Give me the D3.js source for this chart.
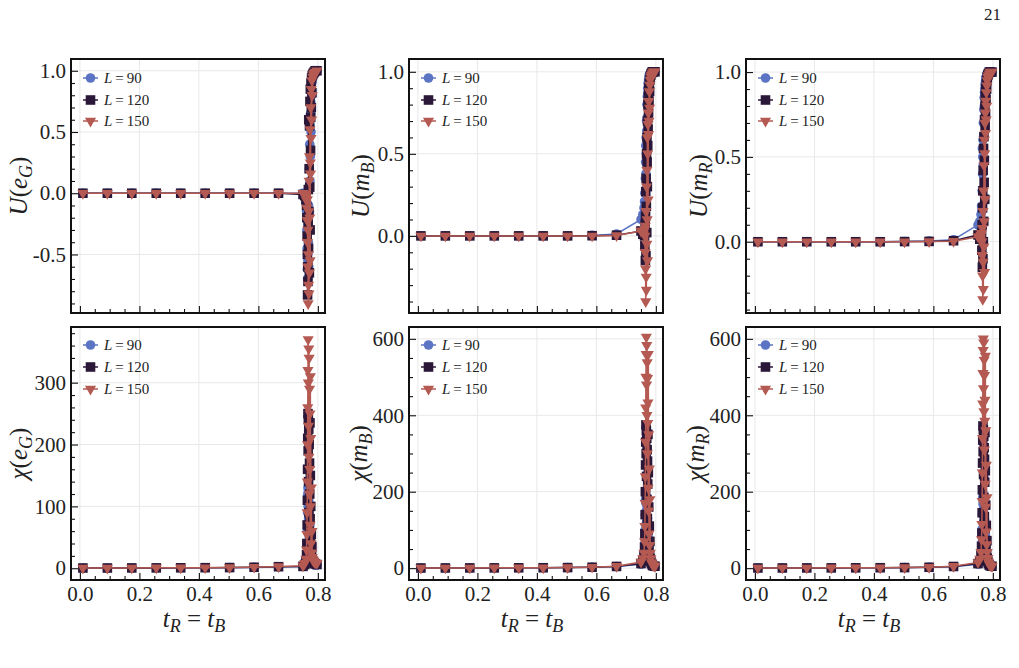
<!DOCTYPE html>
<html>
<head>
<meta charset="utf-8">
<script src="https://cdn.jsdelivr.net/npm/d3@7"></script>
<style>
    body { margin: 0; background: #fff; }
    svg text { font-family: "Liberation Serif", "DejaVu Serif", serif; fill: #222; }
</style>
</head>
<body>
<div id="chart"></div>
<script>
// coarse scan in t_R = t_B, then a fine scan across the transition
const tCoarse = [0.01, 0.0922, 0.1744, 0.2567, 0.3389, 0.4211, 0.5033, 0.5856, 0.6678];
const tFine = [0.750, 0.756, 0.760, 0.762, 0.763, 0.764, 0.7647, 0.7654, 0.766, 0.7667, 0.7674, 0.768,
    0.7687, 0.7694, 0.770, 0.7707, 0.7714, 0.772, 0.7727, 0.7734, 0.774, 0.7747, 0.7754, 0.776,
    0.777, 0.778, 0.779, 0.780, 0.781, 0.783, 0.785, 0.788, 0.791, 0.797];
const sizes = [90, 120, 150];

// U(e_G)
const uEG90 = [0, 0, 0, 0, 0, 0, 0, 0, 0,
    0.00, -0.02, -0.08, -0.15, -0.3, -0.45, -0.62, -0.7, -0.5, -0.55, -0.25, -0.4, -0.1, -0.6, 0.05, -0.3, 0.2,
    -0.15, 0.4, 0.1, 0.55, 0.3, 0.65, 0.75, 0.5, 0.85, 0.8, 0.9, 0.93, 0.96, 0.98, 0.99, 1.0, 1.0];
const uEG120 = [0, 0, 0, 0, 0, 0, 0, 0, 0,
    -0.01, -0.02, -0.05, -0.1, -0.2, -0.35, -0.5, -0.83, -0.6, -0.72, -0.25, 0.03, -0.45, 0.6, -0.15, 0.2,
    -0.65, 0.55, 0.05, 0.75, -0.3, 0.85, 0.35, 0.62, 0.9, 0.7, 0.94, 0.82, 0.96, 0.97, 0.98, 0.99, 1.0, 1.0];
const uEG150 = [0, 0, 0, 0, 0, 0, 0, 0, 0,
    0.0, -0.01, -0.03, -0.06, -0.12, -0.22, -0.05, -0.4, -0.6, -0.3, -0.9, -0.5, -0.75, -0.15, -0.82, 0.1,
    -0.65, 0.3, -0.2, 0.52, -0.55, 0.25, 0.16, 0.7, 0.45, 0.85, 0.6, 0.92, 0.8, 0.95, 0.97, 0.98, 0.99, 1.0];

// U(m_B)
const uMB90 = [0, 0, 0, 0, 0, 0, 0.001, 0.003, 0.012,
    0.1, 0.13, 0.17, 0.21, 0.26, 0.2, 0.35, 0.45, 0.55, 0.38, 0.6, 0.5, 0.7, 0.64, 0.8, 0.72, 0.85,
    0.8, 0.9, 0.87, 0.93, 0.9, 0.95, 0.96, 0.97, 0.98, 0.98, 0.99, 0.99, 1.0, 1.0, 1.0, 1.0, 1.0];
const uMB120 = [0, 0, 0, 0, 0, 0, 0, 0.001, 0.004,
    0.03, 0.01, 0.02, 0.0, -0.06, 0.07, -0.15, 0.12, 0.27, -0.12, 0.35, 0.18, 0.5, 0.02, 0.6, 0.45, 0.3,
    0.7, 0.55, 0.8, 0.65, 0.85, 0.75, 0.9, 0.82, 0.93, 0.88, 0.95, 0.97, 0.98, 0.99, 1.0, 1.0, 1.0];
const uMB150 = [0, 0, 0, 0, 0, 0, 0, 0, 0.002,
    0.03, 0.025, 0.03, 0.04, 0.0, -0.1, 0.06, -0.2, -0.4, 0.15, -0.25, -0.33, 0.3, -0.05, 0.4, 0.1, 0.6,
    -0.15, 0.5, 0.68, 0.22, 0.75, 0.62, 0.82, 0.7, 0.88, 0.78, 0.92, 0.95, 0.97, 0.98, 0.99, 1.0, 1.0];

// U(m_R)
const uMR90 = [0, 0, 0, 0, 0, 0, 0.001, 0.004, 0.012,
    0.1, 0.12, 0.16, 0.21, 0.18, 0.3, 0.55, 0.4, 0.5, 0.6, 0.45, 0.7, 0.62, 0.78, 0.7, 0.85, 0.8,
    0.88, 0.9, 0.86, 0.93, 0.92, 0.95, 0.96, 0.97, 0.97, 0.98, 0.99, 0.99, 1.0, 1.0, 1.0, 1.0, 1.0];
const uMR120 = [0, 0, 0, 0, 0, 0, 0.001, 0.002, 0.006,
    0.04, 0.015, 0.03, 0.05, -0.05, 0.1, -0.15, 0.2, 0.3, -0.1, 0.42, 0.0, 0.55, 0.12, 0.62, 0.35, 0.48,
    0.72, 0.25, 0.8, 0.68, 0.86, 0.75, 0.9, 0.84, 0.93, 0.9, 0.95, 0.97, 0.98, 0.99, 1.0, 1.0, 1.0];
const uMR150 = [0, 0, 0, 0, 0, 0, 0, 0.001, 0.003,
    0.03, 0.03, 0.04, 0.05, 0.0, -0.08, 0.08, -0.2, -0.34, 0.18, -0.12, -0.28, 0.3, -0.03, 0.45, 0.12, 0.6,
    -0.18, 0.52, 0.7, 0.25, 0.76, 0.64, 0.83, 0.72, 0.88, 0.8, 0.92, 0.95, 0.97, 0.98, 0.99, 1.0, 1.0];

// chi(e_G)
const chiEG90 = [0.3, 0.3, 0.4, 0.5, 0.6, 0.8, 1.0, 1.4, 2.2,
    3, 5, 9, 15, 25, 40, 60, 90, 120, 130, 100, 125, 80, 110, 65, 95, 50,
    85, 40, 70, 30, 55, 25, 40, 18, 28, 14, 20, 10, 8, 7, 6, 5, 5];
const chiEG120 = [0.4, 0.4, 0.5, 0.6, 0.7, 0.9, 1.1, 1.6, 2.5,
    3, 6, 12, 22, 40, 70, 110, 160, 210, 250, 190, 240, 140, 225, 90, 200, 60,
    170, 120, 235, 80, 150, 45, 100, 30, 55, 20, 35, 14, 11, 9, 8, 7, 6];
const chiEG150 = [0.5, 0.5, 0.6, 0.7, 0.8, 1.0, 1.2, 1.8, 2.8,
    4, 8, 15, 30, 55, 90, 140, 200, 260, 320, 370, 300, 230, 355, 180, 340, 120,
    290, 160, 250, 70, 310, 100, 210, 40, 130, 25, 60, 18, 14, 12, 10, 9, 8];

// chi(m_B)
const chiMB90 = [0.3, 0.4, 0.5, 0.6, 0.8, 1.0, 1.4, 2.2, 4,
    10, 16, 25, 40, 65, 100, 140, 180, 200, 170, 190, 150, 120, 175, 100, 160, 80,
    130, 60, 110, 45, 90, 35, 60, 25, 40, 18, 28, 14, 10, 8, 6, 5, 4];
const chiMB120 = [0.4, 0.5, 0.6, 0.7, 0.9, 1.1, 1.5, 2.4, 4.5,
    12, 20, 32, 55, 90, 140, 200, 270, 330, 375, 300, 360, 240, 340, 180, 310, 130,
    280, 220, 350, 100, 250, 70, 160, 50, 110, 35, 70, 25, 18, 12, 8, 6, 5];
const chiMB150 = [0.5, 0.6, 0.7, 0.8, 1.0, 1.2, 1.6, 2.6, 5,
    16, 25, 40, 70, 110, 170, 240, 330, 420, 500, 560, 605, 480, 583, 400, 538, 300,
    497, 379, 433, 210, 560, 150, 350, 90, 260, 60, 180, 40, 25, 15, 10, 7, 5];

// chi(m_R)
const chiMR90 = [0.3, 0.4, 0.5, 0.6, 0.8, 1.0, 1.3, 2.1, 3.8,
    10, 15, 26, 42, 66, 102, 142, 182, 198, 168, 188, 152, 122, 172, 102, 158, 82,
    128, 62, 108, 46, 88, 36, 62, 26, 42, 19, 29, 14, 10, 8, 6, 5, 4];
const chiMR120 = [0.4, 0.5, 0.6, 0.7, 0.9, 1.1, 1.5, 2.3, 4.4,
    12, 19, 33, 57, 92, 145, 205, 275, 335, 372, 305, 362, 245, 345, 185, 315, 135,
    285, 225, 355, 105, 255, 72, 165, 52, 112, 36, 72, 26, 18, 12, 8, 6, 5];
const chiMR150 = [0.5, 0.6, 0.7, 0.8, 1.0, 1.2, 1.6, 2.5, 4.8,
    15, 24, 42, 75, 115, 175, 250, 340, 430, 510, 570, 600, 470, 590, 410, 545, 310,
    505, 385, 440, 220, 555, 160, 360, 95, 270, 62, 185, 42, 26, 16, 10, 7, 5];

const xTicks = [0, 0.2, 0.4, 0.6, 0.8];
const uTicksEG = [-0.5, 0, 0.5, 1.0];
const uTicks = [0, 0.5, 1.0];
const chiTicksEG = [0, 100, 200, 300];
const chiTicks = [0, 200, 400, 600];

const tAll = tCoarse.concat(tFine);

// layout
const panelLeft = [71, 409, 746];
const panelTop = [59, 327];
const panelW = 254;
const panelH = [254, 253];
const xDomain = [-0.03, 0.824];

const colors = ["#5b74c3", "#2b1737", "#b55a52"];
const symbols = [
    d3.symbol().type(d3.symbolCircle).size(72)(),
    d3.symbol().type(d3.symbolSquare).size(92)(),
    d3.symbol().type(d3.symbolTriangle).size(54)()
];
const symbolRot = [0, 0, 180];

function minorTicks(domain, step, majors) {
    let out = [];
    let start = Math.ceil(domain[0] / step);
    let stop = Math.floor(domain[1] / step);
    for (let i = start; i <= stop; i++) {
        let v = +(i * step).toFixed(6);
        if (!majors.some(m => Math.abs(m - v) < step / 10)) out.push(v);
    }
    return out;
}

class Panel {
    constructor(svg, config) {
        this.svg = svg;
        this.config = config;
        this.initVis();
    }

    initVis() {
        let vis = this;
        let c = vis.config;

        vis.width = panelW;
        vis.height = panelH[c.row];
        vis.left = panelLeft[c.col];
        vis.top = panelTop[c.row];

        vis.g = vis.svg.append("g")
            .attr("transform", "translate(" + vis.left + "," + vis.top + ")");

        vis.x = d3.scaleLinear().domain(xDomain).range([0, vis.width]);
        vis.y = d3.scaleLinear().domain(c.yDomain).range([vis.height, 0]);

        // grid at the major ticks
        let grid = vis.g.append("g").attr("class", "grid");
        grid.selectAll(".gx").data(xTicks).enter().append("line")
            .attr("x1", d => vis.x(d)).attr("x2", d => vis.x(d))
            .attr("y1", 0).attr("y2", vis.height)
            .attr("stroke", "#e8e8e8").attr("stroke-width", 1);
        grid.selectAll(".gy").data(c.yTicks).enter().append("line")
            .attr("y1", d => vis.y(d)).attr("y2", d => vis.y(d))
            .attr("x1", 0).attr("x2", vis.width)
            .attr("stroke", "#e8e8e8").attr("stroke-width", 1);

        vis.g.append("clipPath").attr("id", "clip" + c.id)
            .append("rect").attr("width", vis.width).attr("height", vis.height);
        vis.plot = vis.g.append("g").attr("clip-path", "url(#clip" + c.id + ")");

        // axes, ticks pointing inward
        let xMinor = minorTicks(xDomain, 0.05, xTicks);
        let yMinor = minorTicks(c.yDomain, c.yMinorStep, c.yTicks);

        vis.g.append("g").attr("class", "axis")
            .attr("transform", "translate(0," + vis.height + ")")
            .call(d3.axisBottom(vis.x).tickValues(xMinor).tickSize(-4).tickFormat(""));
        vis.g.append("g").attr("class", "axis x-axis")
            .attr("transform", "translate(0," + vis.height + ")")
            .call(d3.axisBottom(vis.x).tickValues(xTicks).tickSize(-7).tickPadding(6)
                .tickFormat(c.row === 1 ? (d => d.toFixed(1)) : ""));
        vis.g.append("g").attr("class", "axis")
            .call(d3.axisLeft(vis.y).tickValues(yMinor).tickSize(-4).tickFormat(""));
        vis.g.append("g").attr("class", "axis y-axis")
            .call(d3.axisLeft(vis.y).tickValues(c.yTicks).tickSize(-7).tickPadding(5)
                .tickFormat(c.yFormat));

        vis.g.selectAll(".axis .domain").remove();
        vis.g.selectAll(".axis line").attr("stroke", "#111").attr("stroke-width", 1.1);
        vis.g.selectAll(".axis text").style("font-size", "21px")
            .style("font-family", "'Liberation Serif', serif").attr("fill", "#222");

        vis.g.append("rect")
            .attr("width", vis.width).attr("height", vis.height)
            .attr("fill", "none").attr("stroke", "#111").attr("stroke-width", 2);

        // y label, rotated
        let yl = vis.g.append("text")
            .attr("transform", "translate(" + (-c.labelOffset) + "," + (vis.height / 2) + ") rotate(-90)")
            .attr("text-anchor", "middle")
            .style("font-size", "25px");
        yl.append("tspan").style("font-style", "italic").text(c.yName);
        yl.append("tspan").text("(");
        yl.append("tspan").style("font-style", "italic").text(c.yVar);
        yl.append("tspan").style("font-style", "italic").style("font-size", "18px").attr("dy", 5).text(c.ySub);
        yl.append("tspan").attr("dy", -5).text(")");

        if (c.row === 1) {
            let xl = vis.g.append("text")
                .attr("x", vis.width / 2 - 4).attr("y", vis.height + 47)
                .attr("text-anchor", "middle")
                .style("font-size", "25px");
            xl.append("tspan").style("font-style", "italic").text("t");
            xl.append("tspan").style("font-style", "italic").style("font-size", "18px").attr("dy", 5).text("R");
            xl.append("tspan").attr("dy", -5).text(" = ");
            xl.append("tspan").style("font-style", "italic").text("t");
            xl.append("tspan").style("font-style", "italic").style("font-size", "18px").attr("dy", 5).text("B");
        }

        vis.updateVis();
        vis.drawLegend();
    }

    updateVis() {
        let vis = this;
        let line = d3.line()
            .x(d => vis.x(d.t))
            .y(d => vis.y(d.v));

        vis.config.series.forEach((values, i) => {
            let pts = values.map((v, k) => ({t: tAll[k], v: v}));
            let s = vis.plot.append("g").attr("class", "series-" + sizes[i]);

            s.append("path")
                .datum(pts)
                .attr("d", line)
                .attr("fill", "none")
                .attr("stroke", colors[i])
                .attr("stroke-width", 1.5);

            s.selectAll(".dot")
                .data(pts)
                .enter().append("path")
                .attr("class", "dot")
                .attr("d", symbols[i])
                .attr("transform", d => "translate(" + vis.x(d.t) + "," + vis.y(d.v) + ") rotate(" + symbolRot[i] + ")")
                .attr("fill", colors[i]);
        });
    }

    drawLegend() {
        let vis = this;
        let rowsY = vis.config.row === 0 ? [19, 41, 62] : [18, 40, 62];
        let lg = vis.g.append("g").attr("class", "legend");

        sizes.forEach((L, i) => {
            let item = lg.append("g").attr("transform", "translate(12," + rowsY[i] + ")");
            item.append("line")
                .attr("x1", 0).attr("x2", 15)
                .attr("stroke", colors[i]).attr("stroke-width", 1.5);
            item.append("path")
                .attr("d", symbols[i])
                .attr("transform", "translate(7.5,0) rotate(" + symbolRot[i] + ")")
                .attr("fill", colors[i]);
            let txt = item.append("text")
                .attr("x", 21).attr("y", 5)
                .style("font-size", "15px");
            txt.append("tspan").style("font-style", "italic").text("L");
            txt.append("tspan").attr("dx", 3).text("=");
            txt.append("tspan").attr("dx", 3).text(L);
        });
    }
}

const svg = d3.select("#chart").append("svg")
    .attr("width", 1019).attr("height", 668);

svg.append("text")
    .attr("x", 1001).attr("y", 20)
    .attr("text-anchor", "end")
    .style("font-size", "17px")
    .text("21");

const fmtU = d => d.toFixed(1);
const fmtChi = d => d3.format("d")(d);

const panels = [
    {id: 1, row: 0, col: 0, yName: "U", yVar: "e", ySub: "G", yDomain: [-0.978, 1.096], yTicks: uTicksEG,
        yMinorStep: 0.1, yFormat: fmtU, labelOffset: 44, series: [uEG90, uEG120, uEG150]},
    {id: 2, row: 0, col: 1, yName: "U", yVar: "m", ySub: "B", yDomain: [-0.47, 1.078], yTicks: uTicks,
        yMinorStep: 0.1, yFormat: fmtU, labelOffset: 40, series: [uMB90, uMB120, uMB150]},
    {id: 3, row: 0, col: 2, yName: "U", yVar: "m", ySub: "R", yDomain: [-0.42, 1.077], yTicks: uTicks,
        yMinorStep: 0.1, yFormat: fmtU, labelOffset: 39, series: [uMR90, uMR120, uMR150]},
    {id: 4, row: 1, col: 0, yName: "\u03c7", yVar: "e", ySub: "G", yDomain: [-19, 390], yTicks: chiTicksEG,
        yMinorStep: 20, yFormat: fmtChi, labelOffset: 44, series: [chiEG90, chiEG120, chiEG150]},
    {id: 5, row: 1, col: 1, yName: "\u03c7", yVar: "m", ySub: "B", yDomain: [-31, 631], yTicks: chiTicks,
        yMinorStep: 50, yFormat: fmtChi, labelOffset: 42, series: [chiMB90, chiMB120, chiMB150]},
    {id: 6, row: 1, col: 2, yName: "\u03c7", yVar: "m", ySub: "R", yDomain: [-31, 631], yTicks: chiTicks,
        yMinorStep: 50, yFormat: fmtChi, labelOffset: 42, series: [chiMR90, chiMR120, chiMR150]}
];

panels.forEach(p => new Panel(svg, p));
</script>
</body>
</html>
